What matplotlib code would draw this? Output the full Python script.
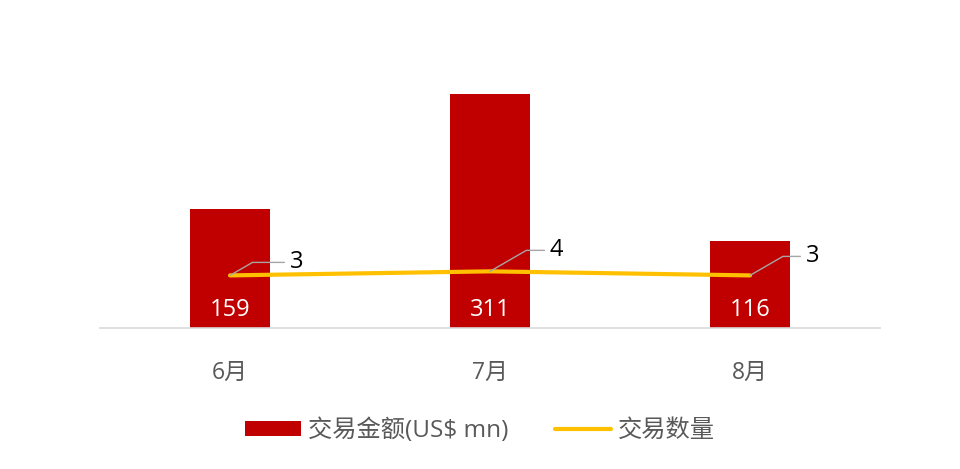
import matplotlib.pyplot as plt
import numpy as np

plt.rcParams['font.family'] = ['Open Sans', 'Noto Sans CJK SC', 'DejaVu Sans']

months = ['6月', '7月', '8月']
amount = [159, 311, 116]
count = [3, 4, 3]
# label offsets (pixels) for the line's data labels
label_offsets = [(60, 13), (60, 21), (56, 19)]

bar_color = '#C00000'
line_color = '#FFC000'
text_gray = '#595959'

fig = plt.figure(figsize=(9.6, 4.69), dpi=100)
ax = fig.add_axes([100 / 960, 1 - 328 / 469, 780 / 960, 263 / 469])
ax2 = ax.twinx()

x = np.arange(len(months))
bars = ax.bar(x, amount, width=0.31, color=bar_color, label='交易金额(US$ mn)', zorder=2)
ax.set_xlim(-0.5, 2.5)
ax.set_ylim(0, 350)

ln, = ax2.plot(x, count, color=line_color, lw=3, solid_capstyle='round',
               label='交易数量', zorder=3)
ax2.set_ylim(-10.0, 55.0)

for b, v in zip(bars, amount):
    ax.text(b.get_x() + b.get_width() / 2, 24, str(v), ha='center', va='center',
            color='white', fontsize=17)

# leader lines + labels for the line series
for xi, v, off in zip(x, count, label_offsets):
    ax2.annotate(str(v), xy=(xi, v), xytext=off, textcoords='offset pixels',
                 fontsize=17, color='black', ha='left', va='center',
                 arrowprops=dict(arrowstyle='-', color='#a6a6a6', lw=1,
                                 shrinkA=2, shrinkB=0,
                                 connectionstyle='angle,angleA=0,angleB=30,rad=0'))

for a in (ax, ax2):
    for s in ['top', 'right', 'left']:
        a.spines[s].set_visible(False)
    a.tick_params(left=False, right=False, labelleft=False, labelright=False)
ax2.spines['bottom'].set_visible(False)
ax.spines['bottom'].set_color('#d9d9d9')
ax.spines['bottom'].set_linewidth(1.2)

ax.set_xticks(x)
ax.set_xticklabels(months, color=text_gray, fontsize=16.5)
ax.tick_params(axis='x', length=0, pad=24)

leg = fig.legend([bars, ln], ['交易金额(US$ mn)', '交易数量'], loc='center',
                 bbox_to_anchor=(0.5, 1 - 431 / 469), ncol=2, frameon=False,
                 fontsize=17.5, handlelength=2.3, handleheight=0.55,
                 columnspacing=1.9, handletextpad=0.3)
for t in leg.get_texts():
    t.set_color(text_gray)

fig.savefig('out.png', dpi=100)
